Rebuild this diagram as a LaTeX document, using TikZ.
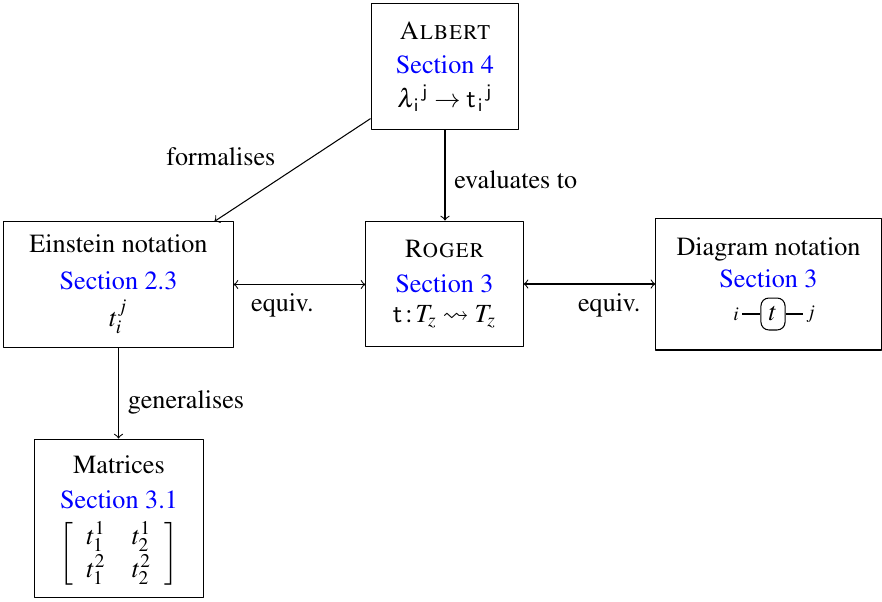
\documentclass[tikz,border=0pt]{standalone}
\usepackage[T1]{fontenc}
\usepackage{mathptmx}
\usepackage{amssymb}
\newcommand{\sect}[1]{\textcolor{blue}{Section #1}}
\tikzset{
  part/.style={draw,align=center,inner sep=0pt},
  tens/.style={draw,rounded corners=3pt,inner sep=0pt,minimum width=9.2pt,minimum height=12.2pt},
  idx/.style={inner sep=1pt}
}
\begin{document}
\begin{tikzpicture}[x=0.382pt,y=-0.382pt,line join=round,>=to]
	\useasboundingbox (0,0) rectangle (882,601);
	\node[part,minimum width=56.5pt,minimum height=47.8pt] (albert) at (445,66.5)
		{\textsc{Albert}\\[1pt]\sect{4}\\[1pt]$\lambda_{\,\mathsf{i}}{}^{\,\mathsf{j}}\to\mathsf{t}_{\,\mathsf{i}}{}^{\,\mathsf{j}}$};
	\node[part,minimum width=60pt,minimum height=48.1pt] (roger) at (444.5,284)
		{\textsc{Roger}\\[1.5pt]\sect{3}\\[-0.5pt]$\mathsf{t}\,{:}\,T_z\rightsquigarrow T_z$};
	\node[part,minimum width=87.5pt,minimum height=47.8pt] (einstein) at (118.5,284.5)
		{Einstein notation\\[2pt]\sect{2.3}\\[2pt]$t_i^j$};
	\node[part,minimum width=86pt,minimum height=50.4pt] (diag) at (768.5,284)
		{Diagram notation\\[0.2pt]\sect{3}\\[1pt]\rule[-3pt]{0pt}{13pt}};
	\node[part,minimum width=64.2pt,minimum height=60.7pt] (matrices) at (119,518.5)
		{\rule{0pt}{9pt}Matrices\\[1.5pt]\sect{3.1}\\[3.5pt]\renewcommand{\arraystretch}{1.05}$\left[\begin{array}{cc} t_1^1 & t_2^1\\ t_1^2 & t_2^2\end{array}\right]$};
	% tensor in diagram notation
	\node[tens] (tt) at (773,314) {$t$};
	\node[idx,anchor=east] (ii) at (742,314) {$\scriptstyle i$};
	\node[idx,anchor=west] (jj) at (803,314) {$\scriptstyle j$};
	\draw (ii) -- (tt);
	\draw (tt) -- (jj);
	% connectors
	\draw[->] ([yshift=4.2pt]albert.south west) -- ([xshift=-7.3pt]einstein.north east)
		node[pos=0.55,above left] {formalises};
	\draw[->] (albert.south) -- (albert.south |- roger.north) node[pos=0.55,right] {evaluates to};
	\draw[<->] (einstein.east) -- (einstein.east -| roger.west) node[pos=0.37,below] {equiv.};
	\draw[<->] (roger.east) -- (roger.east -| diag.west) node[pos=0.65,below] {equiv.};
	\draw[->] (einstein.south) -- (einstein.south |- matrices.north) node[pos=0.6,right] {generalises};
\end{tikzpicture}
\end{document}
